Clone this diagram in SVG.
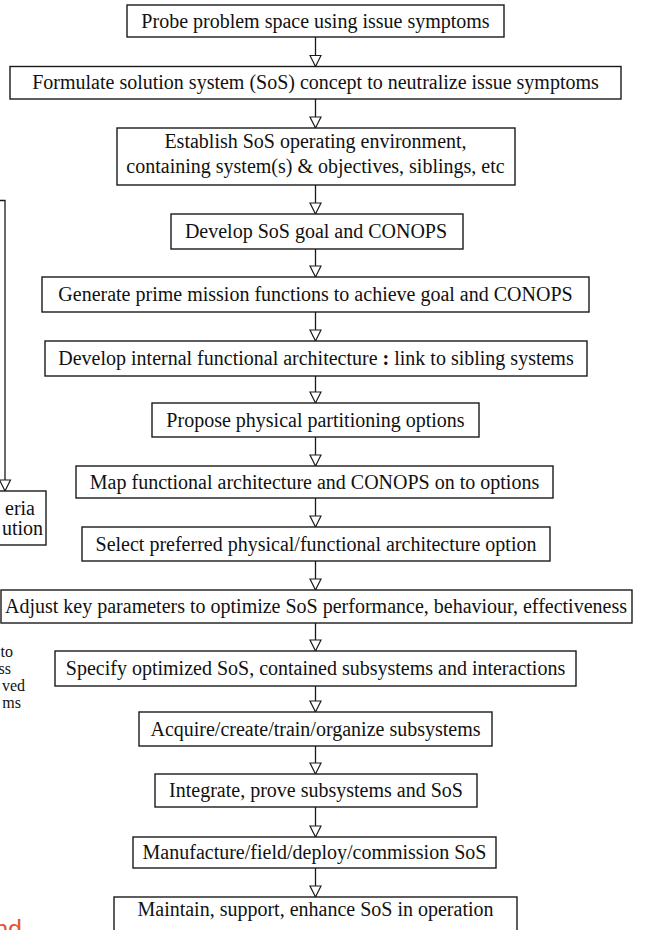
<svg xmlns="http://www.w3.org/2000/svg" width="652" height="930" viewBox="0 0 652 930">
<defs>
<style>
.box{fill:#fff;stroke:#1a1a1a;stroke-width:1.4}
.t{font-family:"Liberation Serif","Times New Roman",serif;font-size:20px;fill:#111;text-anchor:middle}
.s{font-family:"Liberation Serif","Times New Roman",serif;font-size:16px;fill:#111;text-anchor:end}
.c{fill:none;stroke:#1a1a1a;stroke-width:1.3}
</style>
<marker id="ah" markerWidth="14" markerHeight="14" refX="12" refY="6.5" orient="auto" markerUnits="userSpaceOnUse">
<path d="M1,1 L12,6.5 L1,12 Z" fill="#fff" stroke="#1a1a1a" stroke-width="1.2"/>
</marker>
</defs>
<rect width="652" height="930" fill="#fff"/>

<g id="connectors">
<line class="c" x1="315.5" y1="37" x2="315.5" y2="66.5" marker-end="url(#ah)"/>
<line class="c" x1="315.5" y1="99" x2="315.5" y2="128" marker-end="url(#ah)"/>
<line class="c" x1="315.5" y1="185" x2="315.5" y2="214" marker-end="url(#ah)"/>
<line class="c" x1="315.5" y1="249" x2="315.5" y2="277" marker-end="url(#ah)"/>
<line class="c" x1="315.5" y1="312" x2="315.5" y2="341" marker-end="url(#ah)"/>
<line class="c" x1="315.5" y1="376" x2="315.5" y2="403" marker-end="url(#ah)"/>
<line class="c" x1="315.5" y1="437" x2="315.5" y2="466" marker-end="url(#ah)"/>
<line class="c" x1="315.5" y1="498" x2="315.5" y2="527" marker-end="url(#ah)"/>
<line class="c" x1="315.5" y1="561" x2="315.5" y2="590" marker-end="url(#ah)"/>
<line class="c" x1="315.5" y1="623" x2="315.5" y2="651" marker-end="url(#ah)"/>
<line class="c" x1="315.5" y1="686" x2="315.5" y2="712" marker-end="url(#ah)"/>
<line class="c" x1="315.5" y1="746" x2="315.5" y2="774" marker-end="url(#ah)"/>
<line class="c" x1="315.5" y1="807" x2="315.5" y2="837" marker-end="url(#ah)"/>
<line class="c" x1="315.5" y1="868" x2="315.5" y2="897" marker-end="url(#ah)"/>
<path class="c" d="M-2,200.5 L5,200.5 L5,491" marker-end="url(#ah)"/>
</g>

<g id="n1"><rect class="box" x="127" y="5" width="377" height="32"/><text class="t" x="315.5" y="27.5">Probe problem space using issue symptoms</text></g>
<g id="n2"><rect class="box" x="10" y="66.5" width="611" height="32.5"/><text class="t" x="315.5" y="89">Formulate solution system (SoS) concept to neutralize issue symptoms</text></g>
<g id="n3"><rect class="box" x="117" y="128" width="398" height="57"/><text class="t" x="315.5" y="148">Establish SoS operating environment,</text><text class="t" x="315.5" y="173">containing system(s) &amp; objectives, siblings, etc</text></g>
<g id="n4"><rect class="box" x="171" y="214" width="292" height="35"/><text class="t" x="316" y="238">Develop SoS goal and CONOPS</text></g>
<g id="n5"><rect class="box" x="42" y="277" width="547" height="35"/><text class="t" x="315.5" y="301">Generate prime mission functions to achieve goal and CONOPS</text></g>
<g id="n6"><rect class="box" x="45" y="341" width="542" height="35"/><text class="t" x="316" y="365">Develop internal functional architecture <tspan font-weight="bold">:</tspan> link to sibling systems</text></g>
<g id="n7"><rect class="box" x="152" y="403" width="327" height="34"/><text class="t" x="315.5" y="426.5">Propose physical partitioning options</text></g>
<g id="n8"><rect class="box" x="76" y="466" width="477" height="32"/><text class="t" x="314.5" y="488.5">Map functional architecture and CONOPS on to options</text></g>
<g id="n9"><rect class="box" x="82" y="527" width="468" height="34"/><text class="t" x="316" y="550.5">Select preferred physical/functional architecture option</text></g>
<g id="n10"><rect class="box" x="1" y="590" width="631" height="33"/><text class="t" x="316" y="613">Adjust key parameters to optimize SoS performance, behaviour, effectiveness</text></g>
<g id="n11"><rect class="box" x="55" y="651" width="521" height="35"/><text class="t" x="315.5" y="675">Specify optimized SoS, contained subsystems and interactions</text></g>
<g id="n12"><rect class="box" x="139" y="712" width="353" height="34"/><text class="t" x="315.5" y="735.5">Acquire/create/train/organize subsystems</text></g>
<g id="n13"><rect class="box" x="155" y="774" width="322" height="33"/><text class="t" x="316" y="797">Integrate, prove subsystems and SoS</text></g>
<g id="n14"><rect class="box" x="133" y="837" width="363" height="31"/><text class="t" x="314.5" y="859">Manufacture/field/deploy/commission SoS</text></g>
<g id="n15"><rect class="box" x="114" y="897" width="403" height="50"/><text class="t" x="315.5" y="916">Maintain, support, enhance SoS in operation</text></g>

<g id="n-left-criteria"><rect class="box" x="-20" y="491" width="66" height="54"/><text class="t" style="text-anchor:end" x="35" y="515">eria</text><text class="t" style="text-anchor:end" x="43" y="535">ution</text></g>
<g id="n-left-note"><text class="s" x="13" y="657">to</text><text class="s" x="11" y="674">ss</text><text class="s" x="25" y="691">ved</text><text class="s" x="21" y="708">ms</text></g>
<g id="n-left-orange"><text x="22" y="938" font-family="Liberation Sans, Arial, sans-serif" font-size="25" fill="#E8552A" text-anchor="end">nd</text></g>
</svg>
